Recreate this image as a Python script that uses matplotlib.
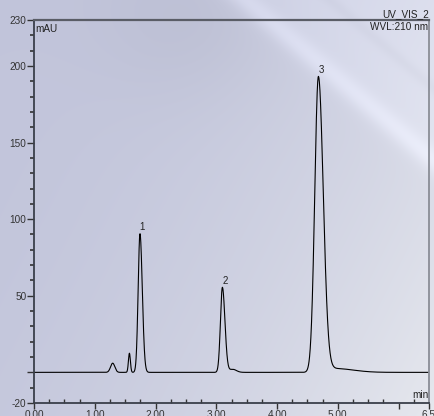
import numpy as np
import matplotlib
matplotlib.use("Agg")
import matplotlib.pyplot as plt
from matplotlib.ticker import FixedLocator

plt.rcParams['font.family'] = ['Liberation Sans', 'DejaVu Sans']

# peak table (min, mAU, left/right width in min)
peak_names = ['', '', '1', '2', '', '3', '']
peak_rt = [1.295, 1.57, 1.744, 3.10, 3.27, 4.68, 4.95]
peak_height = [6.0, 12.5, 90.5, 55.5, 2.0, 193.0, 2.5]
peak_sigma_left = [0.035, 0.016, 0.030, 0.032, 0.06, 0.060, 0.12]
peak_sigma_right = [0.035, 0.016, 0.038, 0.042, 0.06, 0.080, 0.30]

x_ticks = [0, 1, 2, 3, 4, 5, 6, 6.5]
x_labels = ['0.00', '1.00', '2.00', '3.00', '4.00', '5.00', '', '6.5']
y_ticks = [-20, 0, 50, 100, 150, 200, 230]
y_labels = ['-20', '', '50', '100', '150', '200', '230']

W, H = 434, 416


def peak_shape(t, rt, h, sl, sr):
    s = np.where(t < rt, sl, sr)
    return h * np.exp(-0.5 * ((t - rt) / s) ** 2)


def background():
    yy, xx = np.mgrid[0:H, 0:W].astype(float)
    dark = np.array([194, 197, 219.0])
    light = np.array([230, 232, 238.0])
    s = np.clip((xx + 0.5 * yy) / (W + 0.5 * H), 0, 1) ** 2.0
    img = dark * (1 - s[..., None]) + light * s[..., None]
    # darker patch near top middle
    blob = np.exp(-(((xx - 190) / 90) ** 2 + ((yy - 20) / 80) ** 2))
    img -= 7 * blob[..., None]
    # diagonal light band and lighter upper-right side
    d = (yy - 0.85 * (xx - 245)) / np.hypot(1, 0.85)
    img += 14 * np.exp(-(d / 11) ** 2)[..., None]
    img += 10 * (1 / (1 + np.exp(d / 10)))[..., None]
    d2 = (yy - 0.85 * (xx - 330)) / np.hypot(1, 0.85)
    img -= 5 * np.exp(-(d2 / 6) ** 2)[..., None]
    return np.clip(img, 0, 255).astype(np.uint8)


fig = plt.figure(figsize=(W / 100, H / 100), dpi=100)
bg = fig.add_axes([0, 0, 1, 1], zorder=0)
bg.imshow(background(), aspect='auto', interpolation='bilinear')
bg.axis('off')

ax = fig.add_axes([34 / W, 13 / H, 395 / W, 383 / H], zorder=1)
ax.patch.set_alpha(0)

t = np.linspace(0, 6.5, 3000)
signal = np.zeros_like(t)
for rt, h, sl, sr in zip(peak_rt, peak_height, peak_sigma_left, peak_sigma_right):
    signal += peak_shape(t, rt, h, sl, sr)
ax.plot(t, signal, color='black', lw=0.8)

for name, rt, h in zip(peak_names, peak_rt, peak_height):
    if name:
        ax.annotate(name, (rt, h), xytext=(1.8, 4.8), textcoords='offset points',
                    ha='center', va='center', fontsize=7, color='#222222')

ax.set_xlim(0, 6.5)
ax.set_ylim(-20, 230)

ax.xaxis.set_major_locator(FixedLocator(x_ticks))
ax.set_xticklabels(x_labels)
ax.xaxis.set_minor_locator(FixedLocator([m for m in np.arange(0.25, 6.5, 0.25) if m % 1]))
ax.yaxis.set_major_locator(FixedLocator(y_ticks))
ax.set_yticklabels(y_labels)
ax.yaxis.set_minor_locator(FixedLocator([v for v in range(-10, 230, 10) if v % 50]))

ax.tick_params(axis='x', which='major', direction='out', length=4, width=1, pad=1,
               labelsize=7.2, colors='#333333')
ax.tick_params(axis='x', which='minor', direction='in', length=3, width=1, colors='#333333')
ax.tick_params(axis='y', which='major', direction='out', length=5, width=1, pad=0.5,
               labelsize=7.2, colors='#333333')
ax.tick_params(axis='y', which='minor', direction='out', length=3, width=1.2, colors='#333333')

for side in ['left', 'bottom']:
    ax.spines[side].set_color('#3a3f4a')
    ax.spines[side].set_linewidth(1.3)
ax.spines['top'].set_color('#5a5d66')
ax.spines['top'].set_linewidth(1.6)
ax.spines['right'].set_color('#8a8d96')
ax.spines['right'].set_linewidth(1.3)

ax.text(0.003, 0.99, 'mAU', transform=ax.transAxes, ha='left', va='top',
        fontsize=7.2, color='#222222')
ax.text(1.0, 1.003, 'UV_VIS_2', transform=ax.transAxes, ha='right', va='bottom',
        fontsize=7.2, color='#222222')
ax.text(0.998, 0.995, 'WVL:210 nm', transform=ax.transAxes, ha='right', va='top',
        fontsize=7.2, color='#222222')
ax.text(0.998, 0.008, 'min', transform=ax.transAxes, ha='right', va='bottom',
        fontsize=7.2, color='#222222')

fig.savefig('out.png', dpi=100)
